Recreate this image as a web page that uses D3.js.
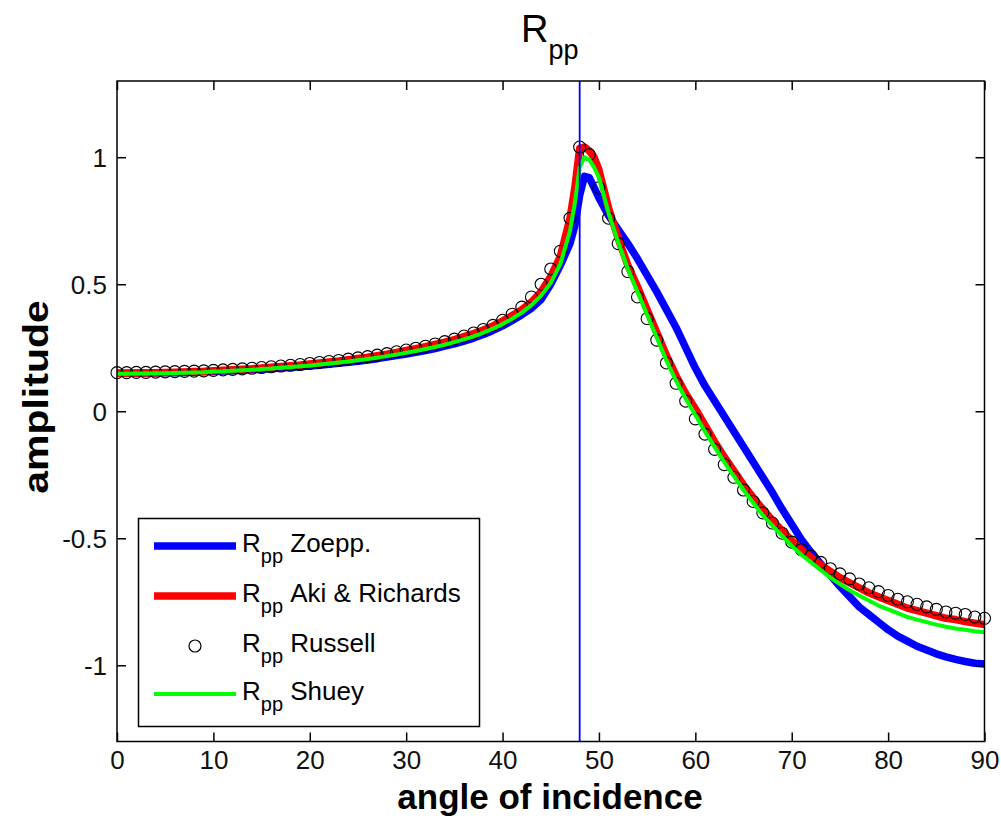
<!DOCTYPE html>
<html>
<head>
<meta charset="utf-8">
<script src="https://cdn.jsdelivr.net/npm/d3@7"></script>
<style>
  html, body { margin: 0; padding: 0; background: #fff; }
  svg { display: block; }
  text { font-family: "Liberation Sans", Arial, sans-serif; }
</style>
</head>
<body>
<svg id="chart" width="1001" height="827"></svg>
<script>
// ---------- data ----------
const lineAngles = [0,1,2,3,4,5,6,7,8,9,10,11,12,13,14,15,16,17,18,19,20,21,22,23,24,25,26,27,28,29,30,31,32,33,34,35,36,37,38,39,40,41,42,43,44,45,46,47,47.5,48,48.5,49,49.5,50,51,52,53,54,55,56,57,58,59,60,61,62,63,64,65,66,67,68,69,70,71,72,73,74,75,76,77,78,79,80,81,82,83,84,85,86,87,88,89,90];

const zoeppritz = [0.150,0.150,0.150,0.151,0.151,0.152,0.152,0.153,0.154,0.155,0.156,0.158,0.159,0.161,0.163,0.165,0.167,0.170,0.172,0.175,0.178,0.181,0.185,0.189,0.193,0.197,0.202,0.207,0.213,0.219,0.225,0.232,0.239,0.247,0.256,0.265,0.276,0.288,0.302,0.318,0.336,0.357,0.380,0.405,0.440,0.500,0.575,0.660,0.730,0.850,0.925,0.920,0.880,0.840,0.770,0.715,0.660,0.600,0.535,0.470,0.400,0.330,0.250,0.170,0.100,0.040,-0.020,-0.080,-0.140,-0.200,-0.260,-0.320,-0.385,-0.445,-0.505,-0.555,-0.600,-0.645,-0.690,-0.730,-0.770,-0.800,-0.830,-0.860,-0.885,-0.905,-0.925,-0.940,-0.955,-0.967,-0.977,-0.985,-0.992,-0.995];

const akiRichards = [0.150,0.150,0.151,0.151,0.152,0.153,0.154,0.155,0.156,0.157,0.159,0.161,0.163,0.165,0.167,0.170,0.173,0.176,0.179,0.182,0.186,0.190,0.194,0.198,0.203,0.208,0.213,0.219,0.225,0.232,0.239,0.246,0.254,0.263,0.272,0.282,0.294,0.306,0.320,0.336,0.355,0.377,0.400,0.430,0.470,0.530,0.610,0.760,0.880,1.035,1.040,1.025,1.000,0.950,0.800,0.680,0.575,0.490,0.400,0.310,0.220,0.140,0.070,0.010,-0.055,-0.120,-0.180,-0.235,-0.290,-0.340,-0.385,-0.430,-0.470,-0.510,-0.545,-0.575,-0.605,-0.630,-0.655,-0.675,-0.695,-0.715,-0.730,-0.745,-0.760,-0.775,-0.785,-0.795,-0.805,-0.815,-0.820,-0.828,-0.834,-0.840];

const shuey = [0.148,0.148,0.149,0.149,0.150,0.150,0.151,0.152,0.153,0.154,0.156,0.157,0.159,0.161,0.163,0.166,0.168,0.171,0.174,0.177,0.180,0.184,0.188,0.192,0.196,0.201,0.206,0.211,0.217,0.223,0.230,0.237,0.245,0.253,0.262,0.272,0.283,0.295,0.309,0.325,0.343,0.364,0.388,0.418,0.455,0.505,0.580,0.710,0.820,0.960,1.000,0.990,0.960,0.920,0.780,0.665,0.560,0.470,0.380,0.290,0.200,0.120,0.050,-0.015,-0.080,-0.140,-0.200,-0.255,-0.310,-0.360,-0.410,-0.450,-0.490,-0.530,-0.565,-0.595,-0.625,-0.655,-0.680,-0.705,-0.725,-0.745,-0.765,-0.780,-0.795,-0.810,-0.820,-0.830,-0.840,-0.848,-0.855,-0.860,-0.866,-0.870];

const russellAngles = [0,1,2,3,4,5,6,7,8,9,10,11,12,13,14,15,16,17,18,19,20,21,22,23,24,25,26,27,28,29,30,31,32,33,34,35,36,37,38,39,40,41,42,43,44,45,46,47,48,49,50,51,52,53,54,55,56,57,58,59,60,61,62,63,64,65,66,67,68,69,70,71,72,73,74,75,76,77,78,79,80,81,82,83,84,85,86,87,88,89,90];

const russell = [0.152,0.152,0.153,0.153,0.154,0.155,0.156,0.157,0.158,0.159,0.161,0.163,0.165,0.167,0.169,0.172,0.175,0.178,0.181,0.184,0.188,0.192,0.196,0.200,0.205,0.210,0.215,0.221,0.227,0.234,0.241,0.248,0.256,0.265,0.274,0.284,0.296,0.308,0.322,0.338,0.358,0.382,0.410,0.450,0.500,0.560,0.630,0.760,1.040,1.010,0.880,0.760,0.660,0.550,0.450,0.365,0.280,0.190,0.110,0.040,-0.030,-0.090,-0.150,-0.210,-0.260,-0.310,-0.355,-0.400,-0.440,-0.480,-0.515,-0.545,-0.570,-0.595,-0.620,-0.640,-0.660,-0.680,-0.695,-0.710,-0.725,-0.740,-0.750,-0.760,-0.770,-0.780,-0.790,-0.795,-0.800,-0.810,-0.815];

const criticalAngle = [48];
const xTicks = [0,10,20,30,40,50,60,70,80,90];
const yTicks = [-1,-0.5,0,0.5,1];
const yTickLabels = ["-1","-0.5","0","0.5","1"];
const legendLabels = ["Zoepp.","Aki & Richards","Russell","Shuey"];

// ---------- layout ----------
const svg = d3.select("#chart");
const L = 117, R = 984.5, T = 81, B = 741.5;
const x = d3.scaleLinear().domain([0, 90]).range([L, R]);
const y = d3.scaleLinear().domain([-1.3, 1.3]).range([B, T]);

const line = d3.line().x(d => x(d[0])).y(d => y(d[1]));
const zip = (a, b) => a.map((v, i) => [v, b[i]]);

// series
svg.append("path").datum(zip(lineAngles, zoeppritz))
  .attr("d", line).attr("fill", "none").attr("stroke", "#0000ff")
  .attr("stroke-width", 7.5).attr("stroke-linejoin", "round");
svg.append("path").datum(zip(lineAngles, akiRichards))
  .attr("d", line).attr("fill", "none").attr("stroke", "#ff0000")
  .attr("stroke-width", 7.5).attr("stroke-linejoin", "round");
svg.append("g").selectAll("circle").data(zip(russellAngles, russell))
  .join("circle").attr("cx", d => x(d[0])).attr("cy", d => y(d[1]))
  .attr("r", 6).attr("fill", "none").attr("stroke", "#000").attr("stroke-width", 1.1);
svg.append("path").datum(zip(lineAngles, shuey))
  .attr("d", line).attr("fill", "none").attr("stroke", "#00ff00")
  .attr("stroke-width", 4).attr("stroke-linejoin", "round");

// vertical critical-angle line
svg.append("g").selectAll("line").data(criticalAngle).join("line")
  .attr("x1", d => x(d)).attr("x2", d => x(d))
  .attr("y1", T).attr("y2", B)
  .attr("stroke", "#0000ff").attr("stroke-width", 1.8);

// frame
svg.append("rect").attr("x", L).attr("y", T).attr("width", R - L).attr("height", B - T)
  .attr("fill", "none").attr("stroke", "#000").attr("stroke-width", 1.5);

// axes (ticks inward)
const tickLen = 9;
const xAxisB = d3.axisBottom(x).tickValues(xTicks).tickSize(-tickLen).tickFormat(d3.format("d")).tickPadding(9);
const gxb = svg.append("g").attr("transform", `translate(0,${B})`).call(xAxisB);
const xAxisT = d3.axisTop(x).tickValues(xTicks).tickSize(-tickLen).tickFormat("");
const gxt = svg.append("g").attr("transform", `translate(0,${T})`).call(xAxisT);
const yAxisL = d3.axisLeft(y).tickValues(yTicks).tickSize(-tickLen)
  .tickFormat((d, i) => yTickLabels[i]).tickPadding(10);
const gyl = svg.append("g").attr("transform", `translate(${L},0)`).call(yAxisL);
const yAxisR = d3.axisRight(y).tickValues(yTicks).tickSize(-tickLen).tickFormat("");
const gyr = svg.append("g").attr("transform", `translate(${R},0)`).call(yAxisR);
[gxb, gxt, gyl, gyr].forEach(g => {
  g.select(".domain").remove();
  g.selectAll(".tick line").attr("stroke", "#000").attr("stroke-width", 1.5);
  g.selectAll(".tick text").attr("font-size", 26).attr("fill", "#111")
    .attr("font-family", "'Liberation Sans', Arial, sans-serif");
});
gyl.selectAll(".tick text").attr("dy", "0.36em");

// title
const title = svg.append("text").attr("x", 521).attr("y", 42).attr("font-size", 38).attr("fill", "#000");
title.append("tspan").text("R");
title.append("tspan").attr("dy", 17).attr("font-size", 27).text("pp");

// axis labels
svg.append("text").attr("x", 550).attr("y", 809).attr("text-anchor", "middle")
  .attr("font-size", 35).attr("font-weight", "bold").attr("fill", "#000").text("angle of incidence");
svg.append("text").attr("transform", "translate(48,397) rotate(-90) scale(1.17,1)").attr("text-anchor", "middle")
  .attr("font-size", 35).attr("font-weight", "bold").attr("fill", "#000").text("amplitude");

// legend
const lg = svg.append("g");
lg.append("rect").attr("x", 138.5).attr("y", 518.5).attr("width", 341).attr("height", 208)
  .attr("fill", "#fff").attr("stroke", "#000").attr("stroke-width", 1.5);
const rowsY = [546, 596, 646, 694];
const legStyles = [
  {type: "line", color: "#0000ff", w: 7.5},
  {type: "line", color: "#ff0000", w: 7.5},
  {type: "circle"},
  {type: "line", color: "#00ff00", w: 4}
];
legendLabels.forEach((lab, i) => {
  const yy = rowsY[i], s = legStyles[i];
  if (s.type === "line") {
    lg.append("line").attr("x1", 154).attr("x2", 236).attr("y1", yy).attr("y2", yy)
      .attr("stroke", s.color).attr("stroke-width", s.w);
  } else {
    lg.append("circle").attr("cx", 195).attr("cy", yy).attr("r", 6)
      .attr("fill", "none").attr("stroke", "#000").attr("stroke-width", 1.2);
  }
  const t = lg.append("text").attr("x", 242).attr("y", yy + 6).attr("font-size", 26).attr("fill", "#000");
  t.append("tspan").text("R");
  t.append("tspan").attr("dy", 11).attr("font-size", 20).text("pp");
  t.append("tspan").attr("dy", -11).attr("font-size", 26).text("\u00a0" + lab);
});
</script>
</body>
</html>
